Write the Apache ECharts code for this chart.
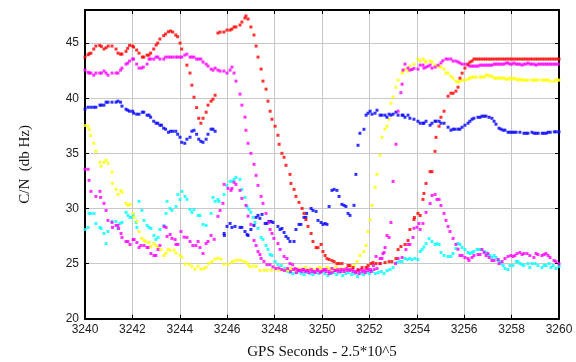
<!DOCTYPE html>
<html><head><meta charset="utf-8">
<script src="https://cdn.jsdelivr.net/npm/echarts/dist/echarts.min.js"></script>
<style>html,body{margin:0;padding:0;background:#fff}#c{width:576px;height:362px}</style>
</head><body><div id="c"></div>
<script>
const xTicks = [3240,3242,3244,3246,3248,3250,3252,3254,3256,3258,3260];
const yTicks = [20,25,30,35,40,45];
const xTitle = 'GPS Seconds - 2.5*10^5';
const yTitle = 'C/N  (db Hz)';

const redPts = [
[3240.0,43.73],[3240.13,43.94],[3240.18,44.03],[3240.25,44.09],[3240.37,44.46],[3240.46,44.73],[3240.62,44.79],[3240.69,44.70],[3240.80,44.46],[3240.89,44.58],[3240.98,44.73],[3241.14,44.73],[3241.31,44.46],[3241.39,44.09],[3241.50,44.00],[3241.56,44.00],[3241.73,44.25],[3241.80,44.52],[3241.88,44.79],[3242.01,44.73],[3242.05,44.64],[3242.18,44.37],[3242.28,44.09],[3242.42,43.73],[3242.48,43.73],[3242.62,43.91],[3242.70,43.91],[3242.77,44.09],[3242.90,44.46],[3243.00,44.82],[3243.07,45.00],[3243.16,45.37],[3243.32,45.67],[3243.40,45.82],[3243.52,46.03],[3243.61,46.09],[3243.70,46.00],[3243.83,45.73],[3243.91,45.58],[3244.01,45.00],[3244.08,44.46],[3244.30,43.00],[3244.43,42.28],[3244.51,41.18],[3244.60,40.09],[3244.71,39.15],[3244.80,38.18],[3244.89,37.73],[3244.98,38.18],[3245.11,38.73],[3245.19,39.37],[3245.32,39.73],[3245.40,39.91],[3245.49,40.27],
[3245.61,45.91],[3245.70,46.00],[3245.86,46.00],[3245.99,46.18],[3246.12,46.18],[3246.20,46.27],[3246.29,46.46],[3246.37,46.46],[3246.54,46.64],[3246.62,46.91],[3246.75,47.27],[3246.79,47.46],[3246.88,47.18],[3247.00,46.46],[3247.13,45.73],[3247.22,44.73],[3247.30,43.73],[3247.43,42.64],[3247.51,41.55],[3247.64,40.82],[3247.72,39.73],[3247.81,38.82],[3247.89,38.09],[3248.02,37.46],[3248.14,36.64],[3248.19,35.82],[3248.31,35.00],[3248.40,34.64],[3248.48,33.91],[3248.65,33.09],[3248.69,32.27],[3248.82,31.73],[3248.90,31.09],[3249.03,30.55],[3249.16,30.00],[3249.24,29.55],[3249.32,29.00],[3249.41,28.37],[3249.54,27.73],[3249.62,27.00],[3249.75,26.45],[3249.83,26.45],[3249.96,26.73],[3250.04,26.09],[3250.13,25.73],[3250.21,25.45],[3250.30,25.37],[3250.42,25.27],[3250.51,25.18],[3250.63,25.00],[3250.72,25.00],[3250.84,25.00],[3251.10,24.82],[3251.18,24.82],[3251.31,24.64],[3251.52,24.45],[3251.69,24.64],[3251.86,24.64],[3251.94,24.82],[3252.07,25.00],[3252.15,25.09],[3252.28,25.00],[3252.45,25.00],[3252.66,25.09],[3252.83,25.18],[3252.95,25.18],[3253.12,25.45],[3253.21,26.27],[3253.33,26.55],[3253.50,26.73],[3253.63,27.09],[3253.71,28.09],[3253.88,29.00],[3253.90,29.18],[3254.05,29.55],[3254.14,29.36],[3254.26,30.82],[3254.30,31.36],[3254.39,32.27],[3254.56,33.34],[3254.64,33.34],[3254.77,35.18],[3254.81,36.45],[3254.94,37.46],[3255.02,38.27],[3255.15,38.82],[3255.32,40.18],[3255.44,40.45],[3255.53,40.45],[3255.65,40.64],[3255.74,41.00],[3255.82,41.82],[3255.91,42.27],[3256.03,42.73],[3256.16,43.09],[3256.24,43.27],[3256.33,43.37],[3256.41,43.55],
[3256.5,43.55],[3256.6,43.55],[3256.7,43.55],[3256.8,43.55],[3256.9,43.55],[3257.0,43.55],[3257.1,43.55],[3257.2,43.55],[3257.3,43.55],[3257.4,43.55],[3257.5,43.55],[3257.6,43.55],[3257.7,43.55],[3257.8,43.55],[3257.9,43.55],[3258.0,43.55],[3258.1,43.55],[3258.2,43.55],[3258.3,43.55],[3258.4,43.55],[3258.5,43.55],[3258.6,43.55],[3258.7,43.55],[3258.8,43.55],[3258.9,43.55],[3259.0,43.55],[3259.1,43.55],[3259.2,43.55],[3259.3,43.55],[3259.4,43.55],[3259.5,43.55],[3259.6,43.55],[3259.7,43.55],[3259.8,43.55],[3259.9,43.55],[3260.0,43.55]
];

const magentaAPts = [
[3240.0,42.55],[3240.13,42.34],[3240.18,42.28],[3240.25,42.28],[3240.37,42.09],[3240.46,42.28],[3240.62,42.28],[3240.69,42.28],[3240.80,42.46],[3240.89,42.28],[3240.97,42.09],[3241.14,42.28],[3241.31,42.28],[3241.39,42.28],[3241.50,42.55],[3241.56,42.73],[3241.73,43.09],[3241.80,43.18],[3241.88,43.37],[3242.01,43.55],[3242.05,43.55],[3242.18,43.09],[3242.28,42.73],[3242.39,42.73],[3242.46,42.82],[3242.62,43.09],[3242.70,43.55],[3242.77,43.55],[3242.90,43.55],[3243.00,43.73],[3243.07,43.73],[3243.16,43.55],[3243.32,43.55],[3243.40,43.73],[3243.52,43.73],[3243.61,43.73],[3243.70,43.73],[3243.83,43.73],[3243.91,43.73],[3244.01,43.73],[3244.08,43.73],[3244.21,43.91],[3244.30,44.00],[3244.43,43.73],[3244.51,43.73],[3244.60,43.73],[3244.71,43.55],[3244.80,43.55],[3244.89,43.55],[3244.98,43.28],[3245.11,43.09],[3245.19,42.91],[3245.32,42.64],[3245.40,42.55],[3245.49,42.73],[3245.61,42.55],[3245.70,42.46],[3245.86,42.46],[3245.99,42.28],[3246.12,42.55],[3246.20,42.82],[3246.29,42.28],[3246.37,41.55],[3246.54,40.37],[3246.62,39.37],[3246.75,38.28],[3246.79,37.09],[3246.88,35.91],[3247.00,35.00],[3247.13,34.00],[3247.22,33.00],[3247.30,32.09],[3247.43,31.09],[3247.51,30.46],[3247.64,29.55],[3247.76,28.73],[3247.81,28.09],[3247.89,27.73],[3247.97,27.28],[3248.14,26.82],[3248.23,26.28],[3248.40,25.64],[3248.52,25.46],[3248.65,25.00],[3248.76,24.90],
[3248.86,24.55],[3248.95,24.46],[3249.03,24.37],[3249.16,24.28],[3249.24,24.46],[3249.37,24.37],[3249.45,24.18],[3249.58,24.28],[3249.71,24.18],[3249.83,24.37],[3249.96,24.28],[3250.08,24.46],[3250.17,24.28],[3250.30,24.09],[3250.42,24.18],[3250.55,24.37],[3250.68,24.28],[3250.80,24.46],[3250.93,24.28],[3251.05,24.37],[3251.18,24.46],[3251.30,24.28],[3251.43,24.18],[3251.56,24.09],[3251.69,24.28],[3251.82,24.18],[3251.94,24.37],[3252.07,24.28],[3252.20,24.46],[3252.32,24.55],[3252.45,25.00],[3252.53,25.46],[3252.62,26.00],[3252.91,28.73],[3253.00,32.45],[3253.12,35.82],[3253.21,38.82],[3253.33,40.50],[3253.38,41.27],[3253.42,42.55],[3253.50,43.09],[3253.63,42.73],[3253.71,42.55],[3253.80,42.60],[3253.88,42.70],[3254.05,42.64],[3254.14,43.00],[3254.26,43.00],[3254.30,42.73],[3254.39,42.82],[3254.47,42.90],[3254.56,43.00],[3254.64,42.73],[3254.77,42.82],[3254.90,43.00],[3255.02,43.20],[3255.10,43.40],[3255.23,43.55],[3255.32,43.55],[3255.44,43.55],[3255.53,43.37],[3255.65,43.37],[3255.74,43.28],[3255.82,43.19],[3255.91,43.09],[3256.03,43.09],[3256.16,43.00],[3256.24,42.91],[3256.33,42.91],[3256.41,42.91],[3256.50,42.91],[3256.58,42.91],[3256.67,43.00],[3256.75,43.00],[3256.84,43.00],[3256.92,43.00],[3257.00,43.00],[3257.09,43.00],[3257.17,43.00],[3257.26,43.09],[3257.34,43.09],[3257.43,43.09],[3257.51,43.09],[3257.60,43.09],[3257.68,43.09],[3257.77,43.19],[3257.85,43.19],[3257.93,43.09],[3258.02,43.09],[3258.10,43.19],[3258.19,43.09],[3258.27,43.09],[3258.35,43.09],[3258.44,43.00],[3258.52,43.09],[3258.61,43.09],[3258.69,43.19],[3258.78,43.09],[3258.86,43.09],[3258.95,43.09],[3259.03,43.00],[3259.12,43.09],[3259.20,43.09],[3259.29,43.09],[3259.37,43.09],[3259.46,43.09],[3259.54,43.09],[3259.63,43.09],[3259.71,43.09],[3259.80,43.09],[3259.88,43.09],[3259.97,43.09]
];

const magentaBPts = [
[3240.0,33.55],[3240.13,33.55],[3240.17,32.55],[3240.25,31.55],[3240.46,31.09],[3240.63,31.55],[3240.66,31.00],[3240.80,30.46],[3240.89,29.82],[3240.97,28.91],[3241.14,28.73],[3241.16,28.28],[3241.31,28.46],[3241.39,28.46],[3241.42,28.18],[3241.52,27.73],[3241.56,27.37],[3241.73,27.00],[3241.81,27.00],[3241.90,26.73],[3242.03,27.18],[3242.07,27.18],[3242.19,26.91],[3242.28,26.46],[3242.36,26.64],[3242.49,26.64],[3242.62,26.46],[3242.66,26.46],[3242.78,25.91],[3242.91,25.73],[3242.99,25.73],[3243.08,26.28],[3243.16,26.64],[3243.33,28.37],[3243.42,28.28],[3243.46,27.46],[3243.59,27.64],[3243.67,27.28],[3243.80,27.18],[3243.84,26.73],[3243.92,26.73],[3244.05,27.91],[3244.18,27.40],[3244.30,27.37],[3244.43,27.00],[3244.55,26.64],[3244.68,26.64],[3244.77,27.00],[3244.85,26.46],[3244.98,25.91],[3245.11,26.82],[3245.19,27.00],[3245.32,27.55],[3245.45,27.20],[3245.61,29.28],[3245.70,29.82],[3245.82,30.46],[3245.87,32.18],[3246.03,31.82],[3246.16,31.64],[3246.20,31.82],[3246.29,32.37],[3246.37,32.18],[3246.54,31.64],[3246.62,30.91],[3246.79,30.28],[3246.88,29.30],[3247.00,28.55],[3247.13,27.09],[3247.22,26.64],[3247.30,26.09],[3247.38,25.82],[3247.43,25.46],[3247.55,25.20],[3247.68,24.90],[3247.80,24.90],[3247.93,24.70],[3248.05,24.55],[3248.18,24.60],[3248.30,24.46],[3248.42,24.37],[3248.55,24.55],[3248.67,24.28],[3248.80,24.46],[3248.92,24.18],[3249.05,24.37],[3249.17,24.46],[3249.30,24.28],[3249.42,24.37],[3249.55,24.46],[3249.67,24.28],[3249.80,24.46],[3249.92,24.18],[3250.05,24.37],[3250.17,24.46],[3250.30,24.28],[3250.42,24.55],[3250.55,24.37],[3250.67,24.46],[3250.80,24.28],[3250.92,24.46],[3251.05,24.55],[3251.17,24.37],[3251.30,24.46],[3251.42,24.28],[3251.55,24.37],[3251.67,24.46],[3251.80,24.37],[3251.92,24.55],[3252.05,24.46],[3252.17,24.82],[3252.28,25.64],[3252.45,25.46],[3252.57,25.90],[3252.66,26.46],[3252.74,27.55],[3252.83,27.37],[3253.10,25.00],[3253.21,25.46],[3253.38,25.55],[3253.54,26.27],[3253.63,26.73],[3253.71,26.73],[3253.84,27.37],[3253.88,28.20],[3254.01,28.30],[3254.09,28.64],[3254.14,28.09],[3254.26,28.64],[3254.39,29.64],[3254.56,30.45],[3254.64,31.18],[3254.77,31.27],[3254.85,30.82],[3254.94,30.82],[3255.02,30.27],[3255.15,29.55],[3255.23,28.91],[3255.32,28.37],[3255.40,27.91],[3255.53,27.28],[3255.65,26.73],[3255.74,26.30],[3255.82,25.73],[3255.91,25.73],[3256.03,25.55],[3256.16,25.46],[3256.20,25.28],[3256.33,25.55],[3256.41,25.73],[3256.58,25.82],[3256.67,25.82],[3256.75,26.28],[3256.84,26.00],[3256.92,25.73],[3257.00,25.91],[3257.05,25.55],[3257.17,25.28],[3257.26,25.28],[3257.43,25.37],[3257.47,25.00],[3257.60,25.18],[3257.72,25.46],[3257.85,25.64],[3257.97,25.73],[3258.06,25.64],[3258.14,25.73],[3258.23,25.91],[3258.35,26.00],[3258.44,25.82],[3258.52,25.91],[3258.65,25.91],[3258.77,25.73],[3258.94,25.55],[3259.03,25.91],[3259.11,25.82],[3259.28,25.73],[3259.37,25.82],[3259.45,25.91],[3259.54,25.73],[3259.62,25.55],[3259.79,25.28],[3259.87,25.18],[3260.00,25.00]
];

const bluePts = [
[3240.0,39.00],[3240.13,39.18],[3240.25,39.18],[3240.37,39.18],[3240.46,39.18],[3240.63,39.37],[3240.69,39.37],[3240.80,39.37],[3240.89,39.64],[3240.97,39.64],[3241.14,39.64],[3241.31,39.64],[3241.39,39.73],[3241.50,39.64],[3241.56,39.28],[3241.73,39.00],[3241.80,38.91],[3241.88,38.82],[3242.01,38.82],[3242.05,38.64],[3242.18,38.55],[3242.28,38.55],[3242.42,38.73],[3242.48,38.73],[3242.62,38.46],[3242.70,38.46],[3242.77,38.28],[3242.90,37.91],[3243.00,37.73],[3243.07,37.73],[3243.16,37.55],[3243.23,37.55],[3243.32,37.28],[3243.40,37.19],[3243.52,36.91],[3243.61,37.00],[3243.70,37.00],[3243.83,37.00],[3243.91,36.73],[3244.01,36.46],[3244.08,36.00],[3244.21,35.91],[3244.30,36.28],[3244.43,36.46],[3244.51,37.00],[3244.60,37.09],[3244.71,36.73],[3244.80,36.28],[3244.89,36.09],[3244.98,36.00],[3245.11,36.28],[3245.19,36.73],[3245.32,37.19],[3245.40,37.19],[3245.49,37.00],
[3245.87,27.73],[3245.88,27.55],[3245.99,28.37],[3246.12,28.64],[3246.20,28.28],[3246.33,28.37],[3246.54,28.28],[3246.62,28.28],[3246.75,27.91],[3246.84,27.64],[3246.88,27.55],[3247.00,28.09],[3247.13,28.46],[3247.22,29.19],[3247.30,29.37],[3247.38,29.10],[3247.47,29.46],[3247.60,28.64],[3247.68,28.64],[3247.76,28.82],[3247.85,28.82],[3247.93,28.73],[3248.14,28.37],[3248.23,28.09],[3248.31,28.18],[3248.40,27.82],[3248.48,27.46],[3248.57,27.28],[3248.65,27.00],[3248.82,27.00],[3248.90,28.09],[3249.03,28.55],[3249.11,28.55],[3249.24,29.19],[3249.32,29.19],[3249.35,29.55],[3249.54,30.00],[3249.62,29.82],[3249.75,29.73],[3249.83,28.91],[3249.96,28.73],[3250.04,28.55],[3250.13,28.64],[3250.21,28.55],[3250.30,30.18],[3250.42,31.64],[3250.51,31.73],[3250.63,31.64],[3250.72,31.09],[3250.84,30.37],[3250.93,30.28],[3251.01,30.18],[3251.10,29.55],[3251.18,29.37],[3251.35,30.28],[3251.43,33.09],[3251.52,35.73],[3251.60,36.82],[3251.77,37.18],[3251.86,38.46],[3251.94,38.64],[3252.03,38.82],[3252.11,38.55],[3252.24,38.64],[3252.32,38.91],[3252.45,38.46],[3252.53,38.46],[3252.66,38.46],[3252.74,38.27],[3252.83,38.55],[3252.91,38.46],[3253.00,38.55],[3253.12,38.73],[3253.21,38.46],[3253.38,38.46],[3253.42,38.46],[3253.50,38.27],[3253.63,38.46],[3253.71,38.18],[3253.88,38.09],[3254.05,37.91],[3254.14,37.73],[3254.26,37.73],[3254.30,37.73],[3254.39,37.91],[3254.56,37.55],[3254.64,37.73],[3254.77,37.91],[3254.81,37.91],[3254.94,37.91],[3255.02,37.73],[3255.15,37.73],[3255.32,37.37],[3255.44,37.10],[3255.53,37.19],[3255.61,37.19],[3255.74,37.19],[3255.82,37.19],[3255.91,37.37],[3256.03,37.55],[3256.16,37.73],[3256.24,37.91],[3256.33,38.09],[3256.41,38.18],[3256.58,38.27],[3256.67,38.27],[3256.75,38.37],[3256.84,38.37],[3256.92,38.37],[3257.05,38.27],[3257.17,38.18],[3257.26,37.91],[3257.34,37.64],[3257.47,37.28],[3257.55,37.19],[3257.64,37.10],[3257.72,37.10],[3257.85,36.91],[3257.93,36.91],[3258.02,36.91],[3258.10,36.91],[3258.19,36.91],[3258.35,36.91],[3258.52,36.82],[3258.61,36.82],[3258.69,36.82],[3258.86,36.91],[3258.95,36.82],[3259.03,36.82],[3259.12,36.82],[3259.29,36.82],[3259.37,36.82],[3259.46,36.82],[3259.54,36.91],[3259.63,36.91],[3259.80,36.95],[3259.88,36.95],[3260.00,36.95]
];

const yellowPts = [
[3240.0,37.52],[3240.13,37.46],[3240.17,37.16],[3240.24,36.61],[3240.37,35.91],[3240.46,35.19],[3240.63,34.19],[3240.68,33.82],[3240.80,34.19],[3240.89,34.37],[3240.97,34.10],[3241.14,33.28],[3241.16,32.28],[3241.31,31.73],[3241.39,31.27],[3241.52,31.64],[3241.56,31.46],[3241.73,30.46],[3241.81,30.28],[3241.90,30.37],[3242.03,29.55],[3242.07,29.19],[3242.19,28.82],[3242.28,27.91],[3242.40,27.28],[3242.49,27.10],[3242.57,27.00],[3242.70,26.91],[3242.78,26.55],[3242.91,26.82],[3242.99,26.64],[3243.08,26.46],[3243.21,26.28],[3243.33,25.73],[3243.42,25.94],[3243.50,26.28],[3243.59,26.22],[3243.76,26.22],[3243.84,25.94],[3244.01,25.76],[3244.09,25.58],[3244.22,24.94],[3244.39,24.94],[3244.51,24.76],[3244.64,24.49],[3244.77,24.76],[3244.89,24.49],[3245.02,24.55],[3245.11,24.67],[3245.23,25.03],[3245.36,25.18],[3245.49,25.40],[3245.61,25.49],[3245.74,25.40],[3245.86,24.94],[3246.03,24.94],[3246.20,25.12],[3246.29,25.22],[3246.41,25.31],[3246.54,25.31],[3246.67,25.22],[3246.79,25.12],[3246.88,24.94],[3246.96,24.73],[3247.09,24.76],[3247.22,24.76],[3247.38,24.37],[3247.55,24.40],[3247.68,24.40],[3247.85,24.40],[3248.02,24.46],[3248.19,24.40],[3248.35,24.40],[3248.50,24.46],[3248.60,24.37],[3248.70,24.55],[3248.80,24.46],[3248.90,24.37],[3249.00,24.55],[3249.10,24.46],[3249.20,24.55],[3249.30,24.64],[3249.40,24.46],[3249.50,24.55],[3249.60,24.46],[3249.70,24.37],[3249.80,24.55],[3249.90,24.64],[3250.00,24.55],[3250.10,24.46],[3250.20,24.64],[3250.30,24.55],[3250.40,24.46],[3250.50,24.55],[3250.60,24.64],[3250.70,24.46],[3250.80,24.55],[3250.90,24.46],[3251.00,24.55],[3251.10,24.37],[3251.20,24.55],[3251.35,24.82],[3251.48,25.18],[3251.60,25.73],[3251.77,26.09],[3251.86,26.64],[3251.94,27.91],[3252.03,29.00],[3252.11,30.27],[3252.24,31.91],[3252.32,33.09],[3252.45,34.82],[3252.53,36.45],[3252.66,37.18],[3252.74,37.46],[3252.83,38.09],[3252.91,39.55],[3253.00,40.09],[3253.12,41.00],[3253.21,41.64],[3253.38,42.27],[3253.42,42.46],[3253.50,42.64],[3253.63,42.46],[3253.71,42.91],[3253.88,43.09],[3254.05,43.55],[3254.14,43.37],[3254.26,43.55],[3254.35,43.37],[3254.39,43.27],[3254.56,43.37],[3254.64,43.27],[3254.77,43.00],[3254.85,42.91],[3254.94,42.91],[3255.02,42.82],[3255.15,42.64],[3255.23,42.28],[3255.32,42.28],[3255.44,42.00],[3255.53,41.82],[3255.65,41.55],[3255.74,41.46],[3255.82,41.55],[3255.91,41.64],[3256.03,41.64],[3256.16,41.73],[3256.24,41.82],[3256.33,41.91],[3256.41,41.91],[3256.50,41.91],[3256.67,41.91],[3256.75,41.91],[3256.84,41.91],[3256.92,42.09],[3257.00,42.09],[3257.09,42.00],[3257.17,42.00],[3257.26,41.82],[3257.34,41.82],[3257.43,41.82],[3257.51,41.82],[3257.60,41.82],[3257.68,41.82],[3257.77,41.73],[3257.85,41.73],[3257.93,41.82],[3258.02,41.73],[3258.10,41.82],[3258.19,41.73],[3258.27,41.64],[3258.35,41.73],[3258.44,41.64],[3258.52,41.64],[3258.61,41.64],[3258.69,41.64],[3258.86,41.64],[3258.95,41.64],[3259.03,41.64],[3259.12,41.64],[3259.29,41.64],[3259.37,41.64],[3259.46,41.64],[3259.54,41.64],[3259.63,41.55],[3259.79,41.55],[3259.87,41.64],[3259.95,41.64],[3260.00,41.64]
];

const cyanPts = [
[3240.0,28.09],[3240.13,28.28],[3240.17,29.55],[3240.25,29.55],[3240.38,29.55],[3240.46,28.64],[3240.63,28.28],[3240.68,28.18],[3240.80,27.73],[3240.89,26.82],[3240.97,27.91],[3241.14,28.82],[3241.31,28.82],[3241.39,28.18],[3241.48,28.64],[3241.56,28.73],[3241.73,29.64],[3241.81,29.37],[3241.90,29.19],[3241.98,29.19],[3242.03,29.46],[3242.15,28.73],[3242.19,28.28],[3242.28,30.64],[3242.40,29.82],[3242.49,28.91],[3242.62,28.46],[3242.70,28.28],[3242.78,28.18],[3242.91,27.55],[3242.99,27.19],[3243.08,27.37],[3243.16,28.09],[3243.33,28.46],[3243.42,29.55],[3243.46,30.64],[3243.59,30.00],[3243.67,29.82],[3243.84,30.18],[3243.92,31.27],[3244.01,30.82],[3244.09,31.55],[3244.22,31.09],[3244.30,30.82],[3244.43,29.91],[3244.51,29.64],[3244.60,29.91],[3244.77,29.37],[3244.85,29.37],[3244.98,28.55],[3245.11,28.46],[3245.32,29.55],[3245.40,31.00],[3245.49,30.64],[3245.61,30.82],[3245.65,30.64],[3245.87,31.27],[3245.99,32.09],[3246.12,32.46],[3246.20,32.46],[3246.29,32.64],[3246.37,32.82],[3246.54,32.64],[3246.62,31.73],[3246.75,31.00],[3246.84,30.18],[3246.92,29.91],[3247.00,29.64],[3247.09,29.19],[3247.17,28.73],[3247.30,28.18],[3247.43,27.37],[3247.51,27.19],[3247.64,26.64],[3247.72,26.28],[3247.81,25.82],[3247.89,25.73],[3248.02,25.19],[3248.14,24.91],[3248.28,24.82],[3248.43,24.55],[3248.55,24.30],[3248.65,24.18],[3248.77,24.09],[3248.90,24.18],[3249.00,24.28],[3249.12,24.09],[3249.25,24.00],[3249.37,24.18],[3249.50,24.09],[3249.62,24.00],[3249.75,24.18],[3249.87,24.09],[3250.00,24.28],[3250.12,24.09],[3250.25,23.91],[3250.37,24.09],[3250.50,24.18],[3250.62,24.00],[3250.75,24.18],[3250.87,23.91],[3251.00,24.09],[3251.12,24.18],[3251.25,24.00],[3251.37,24.09],[3251.50,23.82],[3251.62,24.09],[3251.75,24.00],[3251.87,24.18],[3252.00,24.09],[3252.12,24.28],[3252.25,24.09],[3252.37,24.18],[3252.50,24.28],[3252.62,24.09],[3252.75,24.37],[3252.87,24.46],[3253.00,24.64],[3253.16,25.09],[3253.28,25.20],[3253.38,25.18],[3253.50,25.46],[3253.60,25.37],[3253.70,25.46],[3253.80,25.37],[3253.92,25.46],[3254.05,25.37],[3254.14,26.09],[3254.22,26.27],[3254.30,26.50],[3254.39,26.82],[3254.52,27.27],[3254.64,27.00],[3254.77,26.73],[3254.85,26.80],[3254.94,26.73],[3255.02,26.00],[3255.15,25.73],[3255.32,25.64],[3255.44,25.64],[3255.53,25.91],[3255.65,26.37],[3255.74,26.82],[3255.82,26.73],[3255.91,26.46],[3256.03,26.28],[3256.16,26.00],[3256.24,25.91],[3256.33,26.00],[3256.41,26.09],[3256.54,26.28],[3256.62,26.28],[3256.71,26.28],[3256.84,26.09],[3256.92,26.00],[3257.00,25.73],[3257.09,25.73],[3257.17,25.55],[3257.26,25.73],[3257.34,25.55],[3257.43,25.28],[3257.51,25.19],[3257.55,25.00],[3257.64,24.82],[3257.72,24.55],[3257.85,24.46],[3257.93,24.82],[3258.06,24.82],[3258.19,25.19],[3258.27,25.19],[3258.35,25.00],[3258.44,24.91],[3258.52,24.82],[3258.69,25.00],[3258.77,24.64],[3258.86,25.00],[3258.99,25.00],[3259.11,24.82],[3259.28,24.64],[3259.37,24.82],[3259.45,24.82],[3259.58,25.00],[3259.66,24.64],[3259.75,24.82],[3259.87,24.55],[3260.00,24.73]
];

const chart = echarts.init(document.getElementById('c'), null, {renderer: 'canvas'});
const labelFont = {fontFamily: 'Liberation Sans, Arial, sans-serif', fontSize: 12, color: '#222'};
const nameFont = {fontFamily: 'Liberation Serif, Times New Roman, serif', fontSize: 15, color: '#111'};
function sc(name, data, color) {
  return {name, type: 'scatter', data, symbol: 'rect', symbolSize: 3,
    itemStyle: {color}, xAxisIndex: 0, yAxisIndex: 0, silent: true, animation: false};
}
const axisCommon = {
  axisLine: {show: true, onZero: false, lineStyle: {color: '#000', width: 2}},
  axisTick: {show: true, inside: true, length: 4, lineStyle: {color: '#000', width: 1}},
};
chart.setOption({
  animation: false,
  backgroundColor: '#fff',
  grid: {left: 85, right: 17, top: 10, bottom: 43.3, containLabel: false, outerBoundsMode: 'none'},
  xAxis: [
    Object.assign({type: 'value', position: 'bottom', min: xTicks[0], max: xTicks[xTicks.length-1], interval: 2,
      axisLabel: Object.assign({margin: 5, formatter: v => String(v)}, labelFont),
      splitLine: {show: true, lineStyle: {color: '#c8c8c8', width: 1}},
      name: xTitle, nameLocation: 'middle', nameGap: 26, nameTextStyle: nameFont}, axisCommon),
    Object.assign({type: 'value', position: 'top', min: xTicks[0], max: xTicks[xTicks.length-1], interval: 2,
      axisLabel: {show: false}, splitLine: {show: false}}, axisCommon)
  ],
  yAxis: [
    Object.assign({type: 'value', position: 'left', min: yTicks[0], max: 48, interval: 5,
      axisLabel: Object.assign({margin: 6, showMaxLabel: false, formatter: v => String(v)}, labelFont),
      splitLine: {show: true, lineStyle: {color: '#c8c8c8', width: 1}},
      name: yTitle, nameLocation: 'middle', nameGap: 52, nameTextStyle: Object.assign({}, nameFont, {fontSize: 15})}, axisCommon),
    Object.assign({type: 'value', position: 'right', min: yTicks[0], max: 48, interval: 5,
      axisLabel: {show: false}, splitLine: {show: false}}, axisCommon)
  ],
  series: [
    sc('cyan', cyanPts, '#00ffff'),
    sc('yellow', yellowPts, '#ffff00'),
    sc('magentaB', magentaBPts, '#ff00ff'),
    sc('blue', bluePts, '#0000ff'),
    sc('magentaA', magentaAPts, '#ff00ff'),
    sc('red', redPts, '#ff0000')
  ]
});
</script>
</body></html>
